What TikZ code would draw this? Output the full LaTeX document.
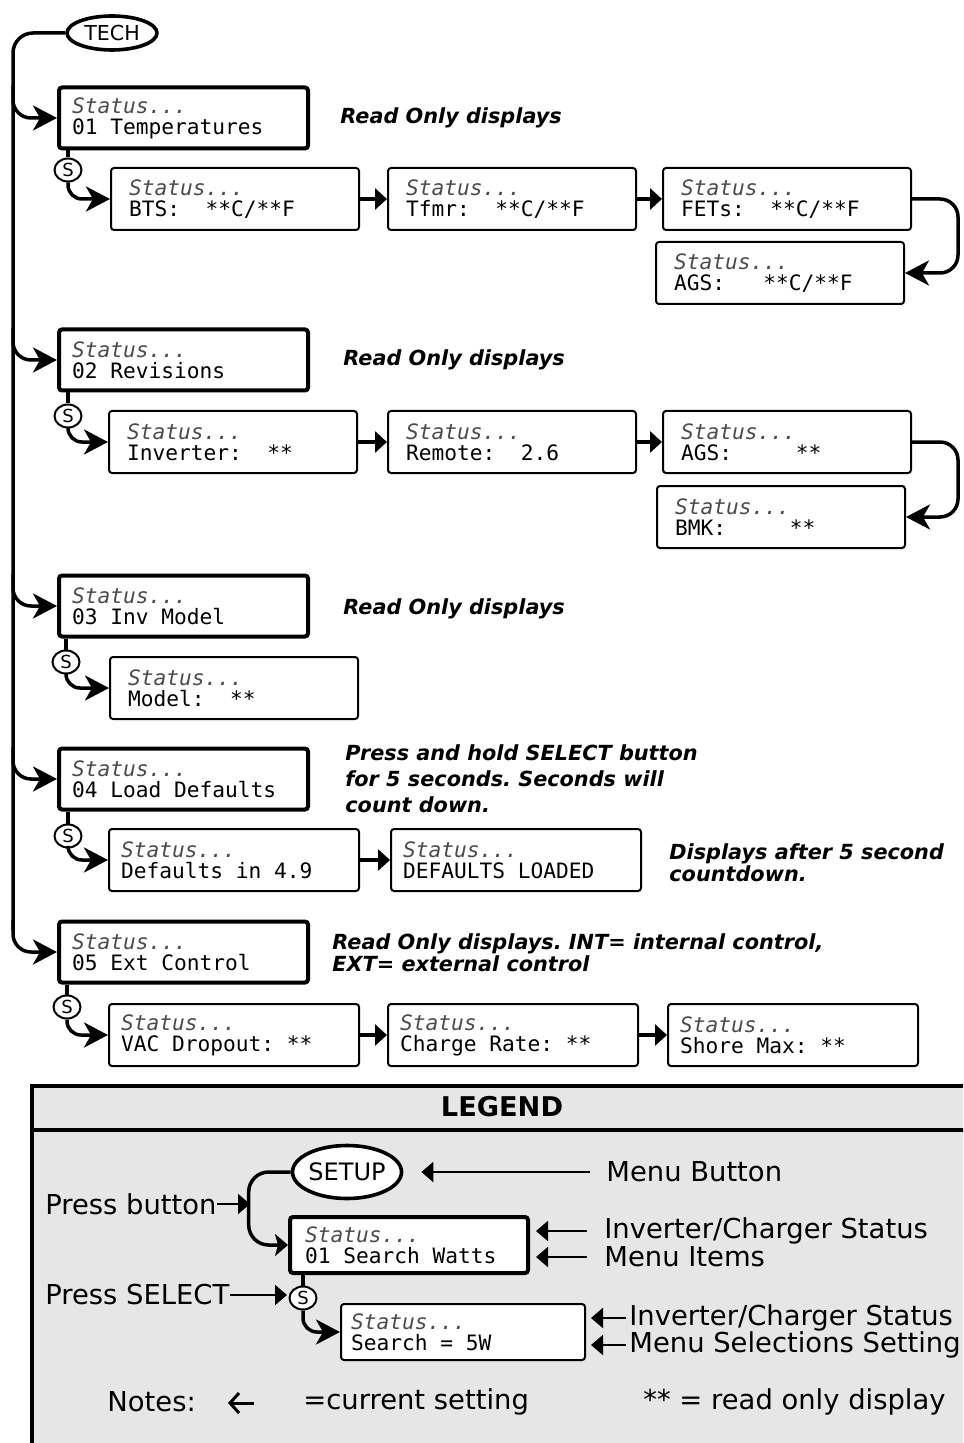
\documentclass[tikz,border=0pt]{standalone}
\usepackage{fontspec}
\setmainfont{DejaVu Sans}
\setsansfont{DejaVu Sans}
\setmonofont{DejaVu Sans Mono}
\usetikzlibrary{arrows.meta,shapes.geometric,calc}
\definecolor{cstatus}{RGB}{75,75,75}
\definecolor{cfond}{RGB}{230,230,230}
\newcommand\lcdfont{\ttfamily\fontsize{10.6}{10.5}\selectfont\spaceskip=0.602em\relax}
\newcommand\notefont[1][13]{\sffamily\bfseries\itshape\fontsize{10.4}{#1}\selectfont\frenchspacing}
\newcommand\legfont{\sffamily\fontsize{13.7}{15}\selectfont}
\newcommand\statline{{\itshape\color{cstatus}Status...}}
\tikzset{
  menubox/.style={draw, line width=2pt, rounded corners=1.5pt, fill=white, anchor=west,
    font=\lcdfont, align=flush left, minimum height=30.5pt, inner xsep=6.5pt, text width=111.5pt},
  itembox/.style={draw, line width=1pt, rounded corners=1.5pt, fill=white, anchor=west,
    font=\lcdfont, align=flush left, minimum height=31pt, inner xsep=9pt, text width=106pt},
  widebox/.style={itembox, inner xsep=6pt, text width=113pt},
  button/.style={ellipse, draw, line width=1.8pt, fill=white, inner sep=0pt,
    font=\sffamily\fontsize{10.3}{12}\selectfont},
  selbtn/.style={ellipse, draw, line width=1pt, fill=white, inner sep=0pt,
    minimum width=13.5pt, minimum height=11.5pt, font=\sffamily\fontsize{9}{10}\selectfont},
  conn/.style={line width=1.75pt},
  branch/.style={conn, -{Stealth[length=12pt,width=12.5pt,inset=3.5pt]}, rounded corners=9pt},
  nextarr/.style={conn, -{Triangle[length=6pt,width=10.5pt]}},
  legarr/.style={line width=1pt, -{Triangle[length=6pt,width=10pt]}},
  note/.style={anchor=west, align=flush left, font=\notefont, inner sep=0pt},
  legtext/.style={anchor=west, font=\legfont, inner sep=0pt},
}
\begin{document}
\begin{tikzpicture}[x=0.5pt, y=-0.5pt, >=Stealth]
\useasboundingbox (0,0) rectangle (963,1443);
\clip (0,0) rectangle (963,1443);
% TECH button and spine
\node[button, minimum width=45pt, minimum height=17pt] (tech) at (112,33) {TECH};
\coordinate (spine) at (13,0);
\draw[conn, rounded corners=10pt] (tech.west) -| (13,930);
% menu items
\foreach \n/\y/\txt in {1/118/01 Temperatures, 2/360/02 Revisions, 3/606/03 Inv Model,
    4/779/04 Load Defaults, 5/952/05 Ext Control}
  \node[menubox] (m\n) at (57,\y) {\statline\\\txt};
\foreach \i in {1,...,5}
  \draw[branch] ($(spine |- m\i.west)+(0,-32)$) |- (m\i.west);
% select buttons
\foreach \i/\x/\y in {1/68/170, 2/68/416, 3/66/662, 4/68/836, 5/67/1007}
  \node[selbtn] (s\i) at (\x,\y) {S};
\foreach \i in {1,...,5} \draw[conn] (m\i.south -| s\i) -- (s\i);
% displays
\node[itembox] (t1) at (110,199) {\statline\\BTS:\ \ **C/**F};
\node[itembox] (t2) at (387,199) {\statline\\Tfmr:\ \ **C/**F};
\node[itembox] (t3) at (662,199) {\statline\\FETs:\ \ **C/**F};
\node[itembox] (t4) at (655,273) {\statline\\AGS:\ \ \ **C/**F};
\node[itembox] (v1) at (108,442) {\statline\\Inverter:\ \ **};
\node[itembox] (v2) at (387,442) {\statline\\Remote:\ \ 2.6};
\node[itembox] (v3) at (662,442) {\statline\\AGS:\ \ \ \ \ **};
\node[itembox] (v4) at (656,517) {\statline\\BMK:\ \ \ \ \ **};
\node[itembox] (md) at (109,688) {\statline\\Model:\ \ **};
\node[widebox] (d1) at (108,860) {\statline\\Defaults in 4.9};
\node[widebox] (d2) at (390,860) {\statline\\DEFAULTS LOADED};
\node[widebox] (e1) at (108,1035) {\statline\\VAC Dropout: **};
\node[widebox] (e2) at (387,1035) {\statline\\Charge Rate: **};
\node[widebox] (e3) at (667,1035) {\statline\\Shore Max: **};
\foreach \s/\b in {s1/t1, s2/v1, s3/md, s4/d1, s5/e1}
  \draw[branch, rounded corners=7pt] (\s) |- (\b.west);
\foreach \a/\b in {t1/t2, t2/t3, v1/v2, v2/v3, d1/d2, e1/e2, e2/e3}
  \draw[nextarr] (\a) -- (\b);
\foreach \a/\b in {t3/t4, v3/v4}
  \draw[branch] (\a.east) -- ++(46,0) |- (\b.east);
% notes
\node[note] (n1) at (340,118) {Read Only displays};
\node[note] (n2) at (343,360) {Read Only displays};
\node[note] (n3) at (343,609) {Read Only displays};
\node[note] (n4) at (345,779) {Press and hold SELECT button\\for 5 seconds. Seconds will\\count down.};
\node[note, font={\notefont[11]}] (n5) at (669,863) {Displays after 5 second\\countdown.};
\node[note, font={\notefont[11]}] (n6) at (332,953) {Read Only displays. INT= internal control,\\EXT= external control};
% legend
\draw[line width=1.8pt, fill=cfond] (32,1086) rectangle (990,1470);
\draw[line width=2pt] (32,1130) -- (990,1130);
\node[font=\sffamily\bfseries\fontsize{13.6}{15}\selectfont] (legend) at (502,1107) {LEGEND};
\node[button, minimum width=52.5pt, minimum height=26.5pt, font=\sffamily\fontsize{12}{14}\selectfont] (setup) at (347,1172) {SETUP};
\node[menubox, minimum height=28pt, inner xsep=7.5pt, text width=104pt] (lb1) at (288,1245) {\statline\\01 Search Watts};
\node[selbtn] (ls) at (303,1298) {S};
\node[itembox, minimum height=28pt, inner xsep=5pt, text width=112pt] (lb2) at (340,1332) {\statline\\Search = 5W};
\draw[branch, -{Stealth[length=6.5pt,width=11pt,inset=1.5pt]}, rounded corners=10pt] (setup.west) -- ++(-42,0) |- (lb1.west);
\draw[conn] (lb1.south -| ls) -- (ls);
\draw[branch, rounded corners=7pt] (ls) |- (lb2.west);
\node[legtext] (pb) at (45,1204) {Press button};
\coordinate (pbtip) at (250,1204);
\draw[legarr] (pb.east) -- (pbtip);
\node[legtext] (ps) at (45,1295) {Press SELECT};
\coordinate (pstip) at (287,1295);
\draw[legarr] (ps.east) -- (pstip);
\node[legtext] (mb) at (606,1172) {Menu Button};
\node[legtext] (ic1) at (604,1231) {Inverter/Charger Status};
\node[legtext] (mi) at (604,1257) {Menu Items};
\node[legtext] (ic2) at (629,1318) {Inverter/Charger Status};
\node[legtext] (ms) at (629,1345) {Menu Selections Setting};
\draw[legarr, shorten <=8pt, shorten >=9pt] (mb.west) -- (setup.east);
\foreach \t in {ic1, mi}
  \draw[legarr, shorten <=8.5pt, shorten >=3pt] (\t.west) -- (\t.west -| lb1.east);
\foreach \t in {ic2, ms}
  \draw[legarr, shorten <=1.5pt, shorten >=2.5pt] (\t.west) -- (\t.west -| lb2.east);
\node[legtext] (notes) at (107,1402) {Notes:};
\draw[line width=1.5pt, -{Straight Barb[length=4.5pt,width=10pt]}] (254,1403) -- (228,1403);
\node[legtext] (cs) at (303,1402) {=current setting};
\node[legtext] (ro) at (643,1402) {** = read only display};
\end{tikzpicture}
\end{document}
